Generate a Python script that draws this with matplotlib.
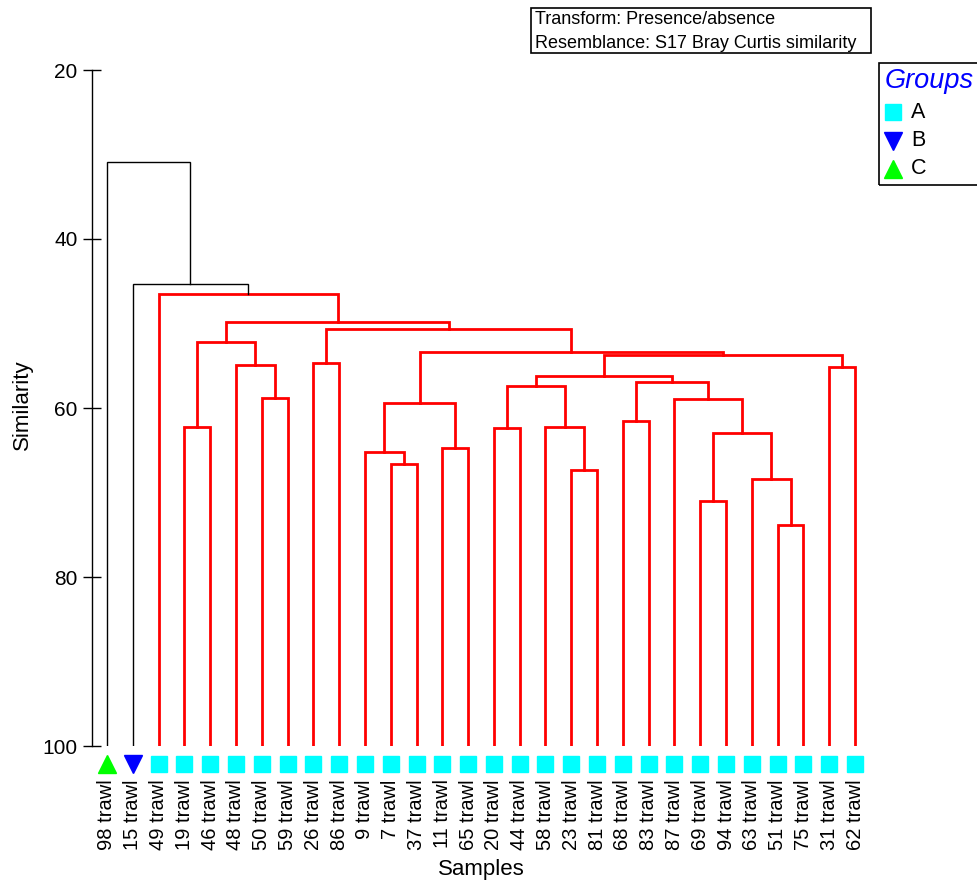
import matplotlib
matplotlib.use("Agg")
import matplotlib.pyplot as plt
from matplotlib.patches import Rectangle

plt.rcParams['font.family'] = ['Liberation Sans', 'DejaVu Sans']

W, H = 978, 884

# leaf order as drawn, with group of each sample
labels = ["98 trawl", "15 trawl", "49 trawl", "19 trawl", "46 trawl", "48 trawl", "50 trawl",
          "59 trawl", "26 trawl", "86 trawl", "9 trawl", "7 trawl", "37 trawl", "11 trawl",
          "65 trawl", "20 trawl", "44 trawl", "58 trawl", "23 trawl", "81 trawl", "68 trawl",
          "83 trawl", "87 trawl", "69 trawl", "94 trawl", "63 trawl", "51 trawl", "75 trawl",
          "31 trawl", "62 trawl"]
groups = ["C", "B"] + ["A"] * 28

# merges: (child a, child b, similarity); leaves are 0..29, new nodes numbered from 30
merges = [
    (3, 4, 62.2),      # 30
    (6, 7, 58.8),      # 31
    (5, 31, 54.95),    # 32
    (30, 32, 52.2),    # 33
    (8, 9, 54.7),      # 34
    (11, 12, 66.6),    # 35
    (10, 35, 65.25),   # 36
    (13, 14, 64.7),    # 37
    (36, 37, 59.4),    # 38
    (15, 16, 62.4),    # 39
    (18, 19, 67.35),   # 40
    (17, 40, 62.2),    # 41
    (39, 41, 57.4),    # 42
    (20, 21, 61.5),    # 43
    (23, 24, 71.0),    # 44
    (26, 27, 73.85),   # 45
    (25, 45, 68.45),   # 46
    (44, 46, 62.9),    # 47
    (22, 47, 58.95),   # 48
    (43, 48, 56.95),   # 49
    (42, 49, 56.2),    # 50
    (28, 29, 55.1),    # 51
    (50, 51, 53.75),   # 52
    (38, 52, 53.4),    # 53
    (34, 53, 50.7),    # 54
    (33, 54, 49.85),   # 55
    (2, 55, 46.45),    # 56
    (1, 56, 45.35),    # 57
    (0, 57, 30.85),    # 58
]
# SIMPROF: the last two joins are significant (black), the rest are not (red)
merge_colors = ["red"] * 27 + ["black"] * 2

group_style = {"A": ("s", "#00FFFF"), "B": ("v", "#0000FF"), "C": ("^", "#00FF00")}

fig = plt.figure(figsize=(W / 100, H / 100), dpi=100)
ax = fig.add_axes([92 / W, (H - 746) / H, 778 / W, 676 / H])

n = len(labels)
node_x = list(range(n))
node_y = [100.0] * n
for (a, b, s), c in zip(merges, merge_colors):
    lw = 2.0 if c == "red" else 1.0
    ax.plot([node_x[a], node_x[a], node_x[b], node_x[b]],
            [node_y[a], s, s, node_y[b]], color=c, lw=lw, solid_joinstyle='miter')
    node_x.append((node_x[a] + node_x[b]) / 2)
    node_y.append(s)

for i, g in enumerate(groups):
    m, col = group_style[g]
    ax.plot(i, 102.15, marker=m, color=col, markersize=12 if m == "s" else 13,
            linestyle="none", clip_on=False)

ax.set_xlim(-0.58, 29.58)
ax.set_ylim(100, 20)
ax.set_yticks([20, 40, 60, 80, 100])
ax.set_xticks(range(n), labels, rotation=90)
ax.tick_params(axis='x', length=0, pad=24, labelsize=14.5)
ax.tick_params(axis='y', direction='inout', length=13, width=1, labelsize=15, pad=4)
for sp in ["top", "right", "bottom"]:
    ax.spines[sp].set_visible(False)
ax.spines["left"].set_linewidth(1)

fig.text(22 / W, 1 - 405 / H, "Similarity", rotation=90, ha="center", va="center", fontsize=16)
fig.text(481 / W, 1 - 870 / H, "Samples", ha="center", va="center", fontsize=16)

# info box
fig.patches.append(Rectangle((531 / W, 1 - 53 / H), 340 / W, 45 / H, transform=fig.transFigure,
                             fill=False, edgecolor="black", lw=1.2))
fig.text(535 / W, 1 - 20 / H, "Transform: Presence/absence", ha="left", va="center", fontsize=13)
fig.text(535 / W, 1 - 43 / H, "Resemblance: S17 Bray Curtis similarity", ha="left", va="center", fontsize=13)

# groups legend (runs off the right edge)
fig.patches.append(Rectangle((879 / W, 1 - 185 / H), 120 / W, 122 / H, transform=fig.transFigure,
                             fill=False, edgecolor="black", lw=1.2, clip_on=False))
fig.text(885 / W, 1 - 81 / H, "Groups", ha="left", va="center", fontsize=19.5,
         style="italic", color="#0000FF")
for g, yy in zip(["A", "B", "C"], [112, 141, 169]):
    m, col = group_style[g]
    fig.lines.append(plt.Line2D([893 / W], [1 - yy / H], marker=m, color=col,
                                markersize=12 if m == "s" else 13, transform=fig.transFigure))
    fig.text(911 / W, 1 - yy / H, g, ha="left", va="center", fontsize=15.5)

plt.savefig("out.png", dpi=100)
plt.close()
